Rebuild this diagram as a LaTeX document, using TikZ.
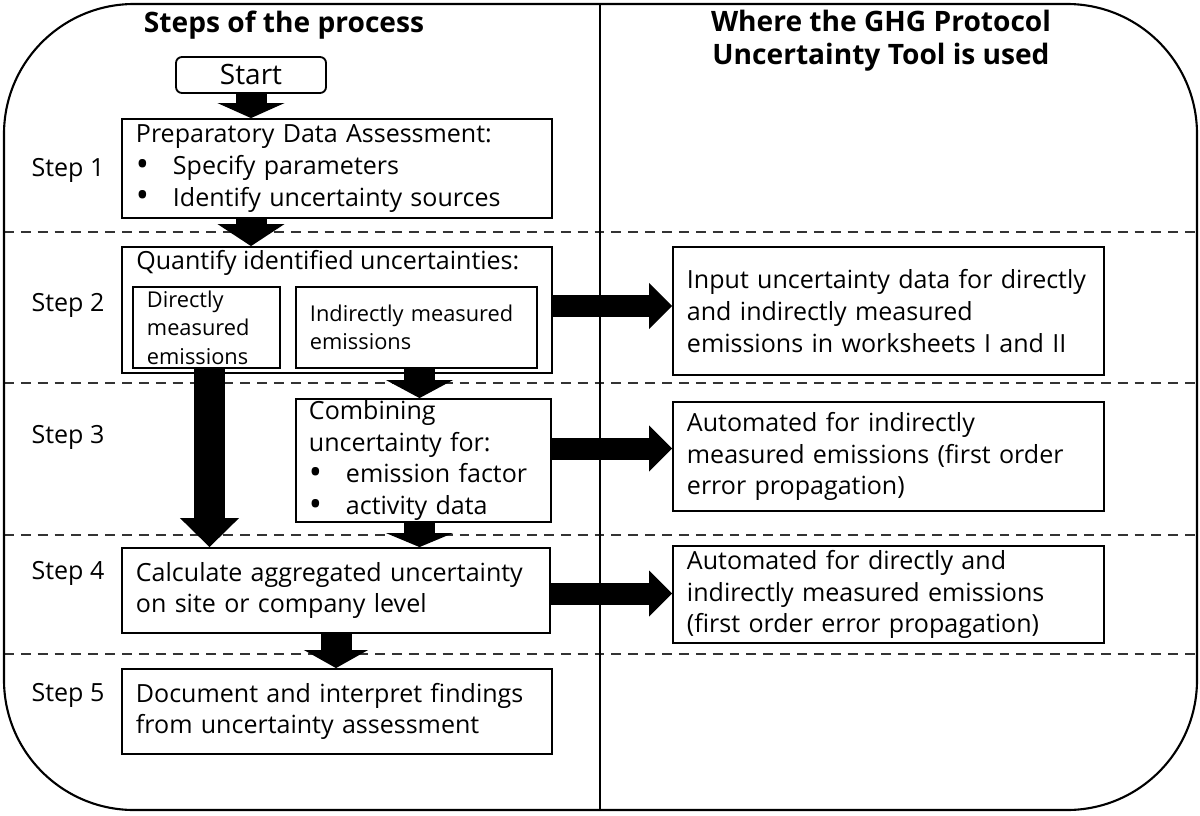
\documentclass[tikz,border=0pt]{standalone}
\usepackage{fontspec}
\setmainfont{Open Sans}
\usepackage{tikz}
\usetikzlibrary{arrows.meta}
\tikzstyle{outerframe}=[draw, line width=1.5pt, rounded corners=3.25cm]
\tikzstyle{rowline}=[draw=black!80, line width=1.3pt, dash pattern=on 7pt off 5pt]
\tikzstyle{heading}=[inner sep=0pt, align=center, font=\fontsize{20}{23.5}\selectfont\bfseries]
\tikzstyle{startbox}=[rectangle, rounded corners=0.15cm, draw, line width=1.3pt, fill=white, minimum width=3.75cm, minimum height=0.9cm, inner sep=0pt, font=\fontsize{19.9}{24}\selectfont]
\tikzstyle{stepbox}=[rectangle, draw, line width=1.3pt, fill=white, inner xsep=0.35cm, inner ysep=0pt, align=left, font=\fontsize{17.8}{22.55}\selectfont]
\tikzstyle{subbox}=[stepbox, font=\fontsize{15.5}{20.3}\selectfont]
\tikzstyle{txt}=[inner sep=0pt, font=\fontsize{17.8}{22.55}\selectfont]
\tikzstyle{downarrow}=[line width=0.775cm, -{Triangle[width=1.675cm, length=0.45cm, line width=0pt]}]
\tikzstyle{sidearrow}=[line width=0.55cm, -{Triangle[width=1.15cm, length=0.575cm, line width=0pt]}]
\newcommand{\bitem}[1]{\makebox[0.925cm][l]{\raisebox{-0.12ex}{\scalebox{1.4}{\textbullet}}}#1}

\begin{document}
\begin{tikzpicture}[x=0.025cm, y=-0.025cm]
	\useasboundingbox (0,0) rectangle (1200,815);
	\foreach \y in {232,383,535,654}
		\draw[rowline] (4,\y) -- (1197,\y);
	\draw[outerframe] (4,4) rectangle (1197,810);
	\draw[line width=1.3pt] (600,4) -- (600,810);

	\draw (284,25) node[heading] (h1) {Steps of the process};
	\draw (881,41) node[heading] (h2) {Where the GHG Protocol\\Uncertainty Tool is used};
	\foreach \n/\y in {1/170,2/305,3/437,4/573,5/695}
		\draw (68,\y) node[txt] (l\n) {Step \n};

	\draw (251,75) node[startbox] (start) {Start};
	\draw (337,168.5) node[stepbox, text width=10.05cm, minimum height=2.475cm] (s1) {Preparatory Data Assessment:\\\bitem{Specify parameters}\\\bitem{Identify uncertainty sources}};
	\draw (337,310) node[stepbox, minimum width=10.75cm, minimum height=3.15cm] (s2) {};
	\draw (136,263) node[txt, anchor=west] (q2) {Quantify identified uncertainties:};
	\draw (206.5,327.5) node[subbox, text width=2.975cm, minimum height=2.025cm] (dir) {Directly\\measured\\emissions};
	\draw (416.5,327.5) node[subbox, text width=5.325cm, minimum height=2.025cm] (ind) {Indirectly measured\\emissions};
	\draw (423.5,460.5) node[stepbox, inner xsep=0.325cm, text width=5.725cm, minimum height=3.075cm] (comb) {Combining\\uncertainty for:\\\bitem{emission factor}\\\bitem{activity data}};
	\draw (336,590.5) node[stepbox, text width=10cm, minimum height=2.125cm] (s4) {Calculate aggregated uncertainty\\on site or company level};
	\draw (337,711.5) node[stepbox, text width=10.05cm, minimum height=2.125cm] (s5) {Document and interpret findings\\from uncertainty assessment};

	\draw (888.5,311) node[stepbox, text width=10.075cm, minimum height=3.2cm] (t1) {Input uncertainty data for directly\\and indirectly measured\\emissions in worksheets I and II};
	\draw (888.5,456.5) node[stepbox, text width=10.075cm, minimum height=2.725cm] (t2) {Automated for indirectly\\measured emissions (first order\\error propagation)};
	\draw (888.5,594.5) node[stepbox, text width=10.075cm, minimum height=2.425cm] (t3) {Automated for directly and\\indirectly measured emissions\\(first order error propagation)};

	\draw[downarrow, -{Triangle[width=1.675cm, length=0.375cm, line width=0pt]}] (start.south) -- (start.south |- s1.north);
	\draw[downarrow, -{Triangle[width=1.675cm, length=0.55cm, line width=0pt]}] (start |- s1.south) -- (start |- s2.north);
	\draw[downarrow, -{Triangle[width=1.475cm, length=0.725cm, line width=0pt]}] ([xshift=0.075cm]dir.south) -- ([xshift=0.075cm]dir.south |- s4.north);
	\draw[downarrow] ([xshift=0.075cm]ind.south) -- ([xshift=0.075cm]ind.south |- comb.north);
	\draw[downarrow, -{Triangle[width=1.675cm, length=0.35cm, line width=0pt]}] ([xshift=0.075cm]ind.south |- comb.south) -- ([xshift=0.075cm]ind.south |- s4.north);
	\draw[downarrow, -{Triangle[width=1.6cm, length=0.45cm, line width=0pt]}] (s4.south) -- (s4.south |- s5.north);
	\draw[sidearrow] ([yshift=0.1cm]s2.east) -- ([yshift=0.1cm]s2.east -| t1.west);
	\draw[sidearrow] ([yshift=0.3cm]comb.east) -- ([yshift=0.3cm]comb.east -| t2.west);
	\draw[sidearrow] ([yshift=-0.075cm]s4.east) -- ([yshift=-0.075cm]s4.east -| t3.west);
\end{tikzpicture}
\end{document}
